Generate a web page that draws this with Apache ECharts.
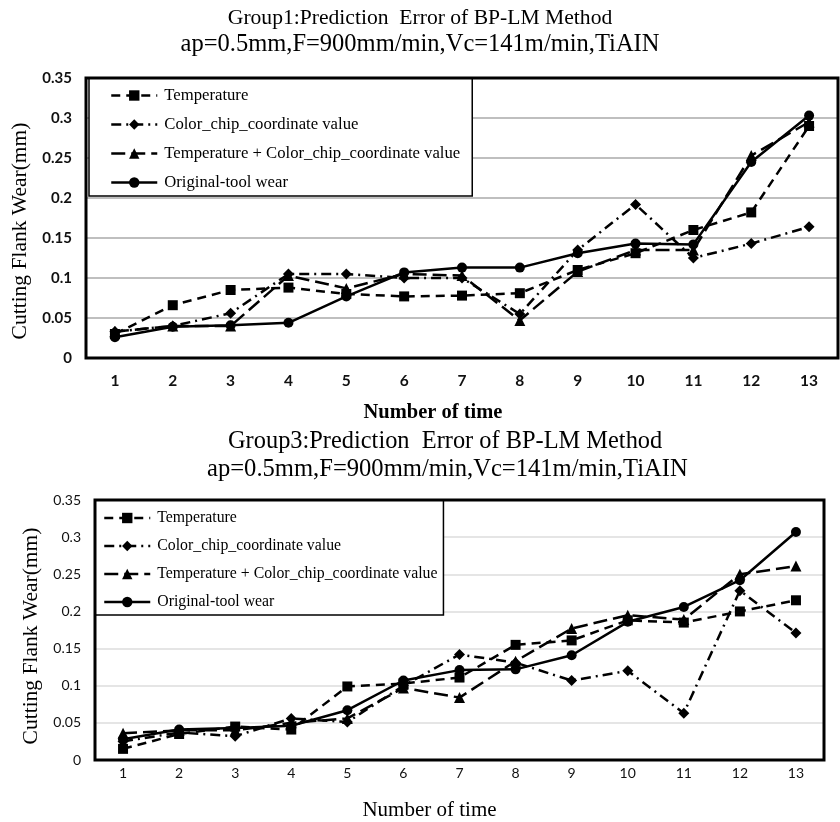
<!DOCTYPE html>
<html>
<head>
<meta charset="utf-8">
<script src="https://cdn.jsdelivr.net/npm/echarts@6/dist/echarts.min.js"></script>
<style>
  html, body { margin: 0; padding: 0; background: #fff; }
  #chart { width: 840px; height: 822px; }
</style>
</head>
<body>
<div id="chart"></div>
<script>
  // 数据
  var categories = ['1', '2', '3', '4', '5', '6', '7', '8', '9', '10', '11', '12', '13'];
  var seriesNames = ['Temperature', 'Color_chip_coordinate value', 'Temperature + Color_chip_coordinate value', 'Original-tool wear'];

  // Group1
  var g1Temperature = [0.030, 0.066, 0.085, 0.088, 0.080, 0.077, 0.078, 0.081, 0.110, 0.131, 0.160, 0.182, 0.290];
  var g1Color = [0.033, 0.040, 0.056, 0.105, 0.105, 0.100, 0.100, 0.055, 0.135, 0.192, 0.125, 0.143, 0.164];
  var g1Combined = [0.033, 0.040, 0.040, 0.103, 0.087, 0.105, 0.103, 0.047, 0.108, 0.135, 0.135, 0.253, 0.295];
  var g1Original = [0.026, 0.039, 0.041, 0.044, 0.077, 0.107, 0.113, 0.113, 0.131, 0.143, 0.142, 0.245, 0.303];

  // Group3
  var g3Temperature = [0.015, 0.035, 0.045, 0.041, 0.099, 0.103, 0.111, 0.155, 0.161, 0.188, 0.185, 0.200, 0.215];
  var g3Color = [0.025, 0.037, 0.032, 0.056, 0.051, 0.100, 0.142, 0.131, 0.107, 0.120, 0.063, 0.228, 0.171];
  var g3Combined = [0.036, 0.040, 0.040, 0.050, 0.056, 0.097, 0.084, 0.133, 0.177, 0.195, 0.189, 0.250, 0.261];
  var g3Original = [0.028, 0.041, 0.043, 0.046, 0.067, 0.107, 0.121, 0.122, 0.141, 0.186, 0.206, 0.242, 0.307];

  var yTicks = { min: 0, max: 0.35, interval: 0.05 };

  var serif = 'Liberation Serif';
  var styles = [
    { symbol: 'rect', size: 10, dash: [9, 6] },
    { symbol: 'diamond', size: 11, dash: [10, 5, 2, 5] },
    { symbol: 'triangle', size: 11, dash: [14, 6] },
    { symbol: 'circle', size: 10, dash: 'solid' }
  ];

  function makeSeries(idx, lists) {
    return lists.map(function (data, i) {
      return {
        name: seriesNames[i],
        type: 'line',
        xAxisIndex: idx,
        yAxisIndex: idx,
        data: data,
        symbol: styles[i].symbol,
        symbolSize: styles[i].size,
        itemStyle: { color: '#000' },
        lineStyle: { color: '#000', width: 2.5, type: styles[i].dash },
        z: 3 + i
      };
    });
  }

  function axisX(idx, bold, labelSize, margin, nameGap, nameSize, namePad) {
    return {
      type: 'category',
      gridIndex: idx,
      data: categories,
      boundaryGap: true,
      axisTick: { show: false },
      axisLine: { lineStyle: { color: '#000', width: 1 } },
      axisLabel: { fontFamily: 'Lato', fontSize: labelSize, fontWeight: bold ? 'bold' : 'normal', color: '#111', margin: margin },
      name: 'Number of time',
      nameLocation: 'middle',
      nameGap: nameGap,
      nameTextStyle: { fontFamily: serif, fontSize: nameSize, fontWeight: bold ? 'bold' : 'normal', color: '#000', padding: namePad }
    };
  }

  function axisY(idx, bold, labelSize, gridColor, nameGap, namePad) {
    return {
      type: 'value',
      gridIndex: idx,
      min: yTicks.min,
      max: yTicks.max,
      interval: yTicks.interval,
      axisLine: { show: false },
      axisTick: { show: false },
      axisLabel: { fontFamily: 'Lato', fontSize: labelSize, fontWeight: bold ? 'bold' : 'normal', color: '#111', margin: 14 },
      splitLine: { lineStyle: { color: gridColor, width: 1.5 } },
      name: 'Cutting Flank Wear(mm)',
      nameLocation: 'middle',
      nameGap: nameGap,
      nameTextStyle: { fontFamily: serif, fontSize: 21.5, color: '#000', padding: namePad }
    };
  }

  function legendBox(left, top, fontSize, gap, padding) {
    return {
      show: true,
      orient: 'vertical',
      left: left,
      top: top,
      data: seriesNames.map(function (n) { return { name: n }; }),
      itemWidth: 46,
      itemHeight: 13,
      itemGap: gap,
      padding: padding,
      backgroundColor: '#fff',
      borderColor: '#000',
      borderWidth: 1.5,
      selectedMode: false,
      lineStyle: { width: 2.5 },
      textStyle: { fontFamily: serif, fontSize: fontSize, color: '#000', padding: [0, 0, 0, 2] }
    };
  }

  function titleLine(text, left, top, size) {
    return {
      text: text,
      left: left,
      top: top,
      padding: 0,
      textStyle: { fontFamily: serif, fontSize: size, fontWeight: 'normal', color: '#000' }
    };
  }

  var chart = echarts.init(document.getElementById('chart'));
  var option = {
    backgroundColor: '#fff',
    animation: false,
    title: [
      titleLine('Group1:Prediction  Error of BP-LM Method', 'center', 7, 21.6),
      titleLine('ap=0.5mm,F=900mm/min,Vc=141m/min,TiAIN', 'center', 32, 24.5),
      titleLine('Group3:Prediction  Error of BP-LM Method', 228, 430, 24.4),
      titleLine('ap=0.5mm,F=900mm/min,Vc=141m/min,TiAIN', 207, 457, 24.6)
    ],
    legend: [
      legendBox(89, 78, 16.7, 12, [9, 12, 5, 21]),
      legendBox(95, 500, 15.8, 12, [10, 6, 5, 8])
    ],
    grid: [
      { left: 86, top: 78, width: 752, height: 280, show: true, borderColor: '#000', borderWidth: 3, backgroundColor: 'transparent', z: 10 },
      { left: 95, top: 500, width: 729, height: 266, show: true, borderColor: '#000', borderWidth: 3, backgroundColor: 'transparent', z: 10 }
    ],
    xAxis: [
      axisX(0, true, 15.5, 15, 44, 20.5, [0, 58, 0, 0]),
      axisX(1, false, 14, 6, 40, 21, [0, 60, 0, 0])
    ],
    yAxis: [
      axisY(0, true, 15, '#aaa', 46, [0, 26, 0, 0]),
      axisY(1, false, 14, '#ddd', 47, [0, 12, 0, 0])
    ],
    series: makeSeries(0, [g1Temperature, g1Color, g1Combined, g1Original])
      .concat(makeSeries(1, [g3Temperature, g3Color, g3Combined, g3Original]))
  };
  chart.setOption(option);
</script>
</body>
</html>
